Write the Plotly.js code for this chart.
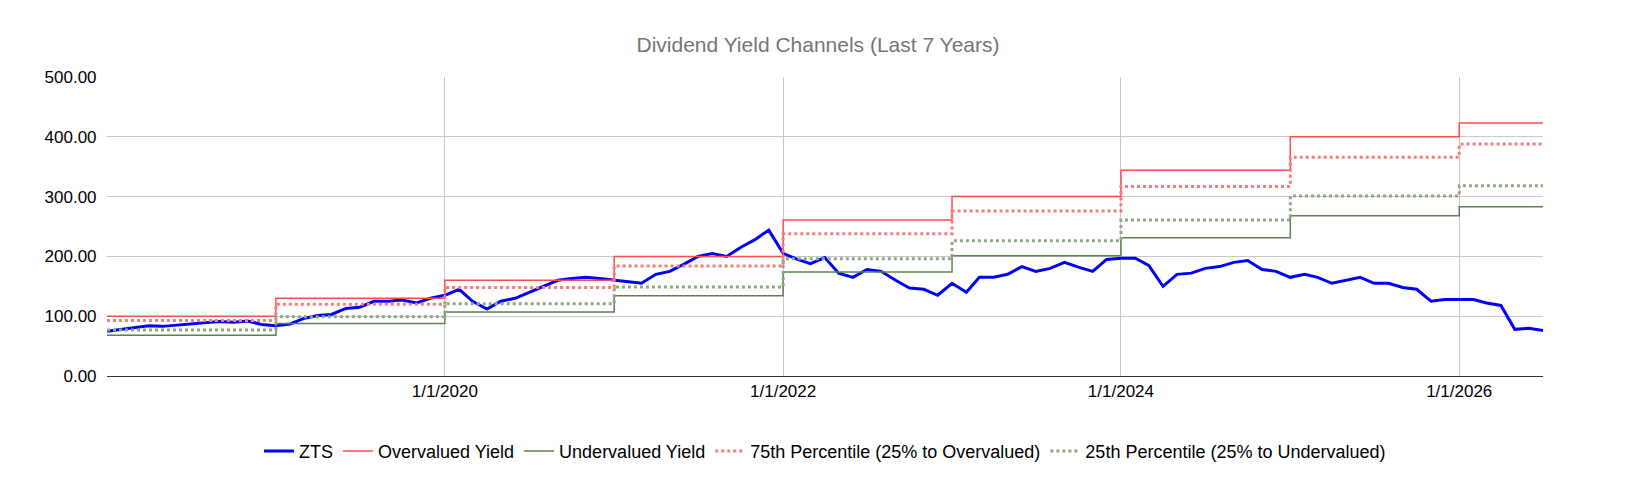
<!DOCTYPE html>
<html>
<head>
<meta charset="utf-8">
<script src="https://cdn.plot.ly/plotly-3.0.1.min.js"></script>
<style>body{margin:0;background:#fff}#graph{width:1636px;height:494px}</style>
</head>
<body>
<div id="graph"></div>
<script>
// monthly ZTS values, Jan 2018 .. Jul 2026
const startYear = 2018;
const zts = [
  75, 78, 80, 84, 83, 85, 86, 88, 91, 90, 92, 86,
  84, 87, 96, 101, 103, 113, 115, 125, 125, 127, 122, 130,
  135, 145, 125, 112, 125, 130, 140, 150, 160, 163, 165, 163,
  160, 157, 155, 170, 175, 187, 200, 205, 200, 215, 228, 244,
  205, 195, 188, 198, 172, 165, 178, 175, 160, 147, 145, 135,
  155, 140, 165, 165, 170, 183, 175, 180, 190, 182, 175, 195,
  197, 197, 185, 150, 170, 172, 180, 183, 190, 193, 178, 175,
  165, 170, 165, 155, 160, 165, 155, 155, 148, 145, 125, 128,
  128, 128, 122, 118, 78, 80, 76
];

// yearly channel levels, 2018 .. 2026
const overvalued  = [100, 130, 160, 200, 261, 300, 344, 400, 423];
const p75         = [93, 120, 148, 184, 238, 276, 317, 366, 388];
const p25         = [77, 99, 121, 149, 196, 226, 261, 301, 318];
const undervalued = [68, 88, 107, 134, 174, 201, 231, 268, 283];

const tickVals = ['2020-01-01', '2022-01-01', '2024-01-01', '2026-01-01'];
const tickText = ['1/1/2020', '1/1/2022', '1/1/2024', '1/1/2026'];

const dates = [];
const yearIdx = [];
for (let i = 0; i < zts.length; i++) {
  const y = startYear + Math.floor(i / 12);
  const m = (i % 12) + 1;
  dates.push(y + '-' + String(m).padStart(2, '0') + '-01');
  yearIdx.push(y - startYear);
}

function channel(levels) {
  return yearIdx.map(k => levels[k]);
}

const traces = [
  { x: dates, y: zts, name: 'ZTS', mode: 'lines', line: { color: '#0000ff', width: 3 } },
  { x: dates, y: channel(overvalued), name: 'Overvalued Yield', mode: 'lines', line: { color: '#ff4d4d', width: 1.5, shape: 'hv' } },
  { x: dates, y: channel(undervalued), name: 'Undervalued Yield', mode: 'lines', line: { color: '#5e8050', width: 1.5, shape: 'hv' } },
  { x: dates, y: channel(p75), name: '75th Percentile (25% to Overvalued)', mode: 'lines', line: { color: '#f47c7c', width: 3, dash: 'dot', shape: 'hv' } },
  { x: dates, y: channel(p25), name: '25th Percentile (25% to Undervalued)', mode: 'lines', line: { color: '#8fa883', width: 3, dash: 'dot', shape: 'hv' } }
];

const layout = {
  width: 1636,
  height: 494,
  margin: { l: 107, r: 93, t: 77, b: 118 },
  paper_bgcolor: '#fff',
  plot_bgcolor: '#fff',
  font: { family: 'Arial, Liberation Sans, sans-serif', size: 17, color: '#000' },
  title: { text: 'Dividend Yield Channels (Last 7 Years)', x: 0.5, y: 0.925, font: { size: 21, color: '#757575' } },
  xaxis: {
    type: 'date',
    range: ['2018-01-01', '2026-07-01'],
    tickvals: tickVals,
    ticktext: tickText,
    showgrid: true,
    gridcolor: '#c8c8c8',
    showline: true,
    linecolor: '#333',
    ticks: '',
    zeroline: false
  },
  yaxis: {
    range: [0, 500],
    dtick: 100,
    tickformat: '.2f',
    gridcolor: '#c8c8c8',
    zeroline: false,
    ticks: '',
    ticksuffix: '  '
  },
  showlegend: true,
  legend: {
    orientation: 'h',
    x: 0.5,
    xanchor: 'center',
    y: -0.19,
    yanchor: 'top',
    font: { size: 18 }
  }
};

Plotly.newPlot('graph', traces, layout, { displayModeBar: false });
</script>
</body>
</html>
